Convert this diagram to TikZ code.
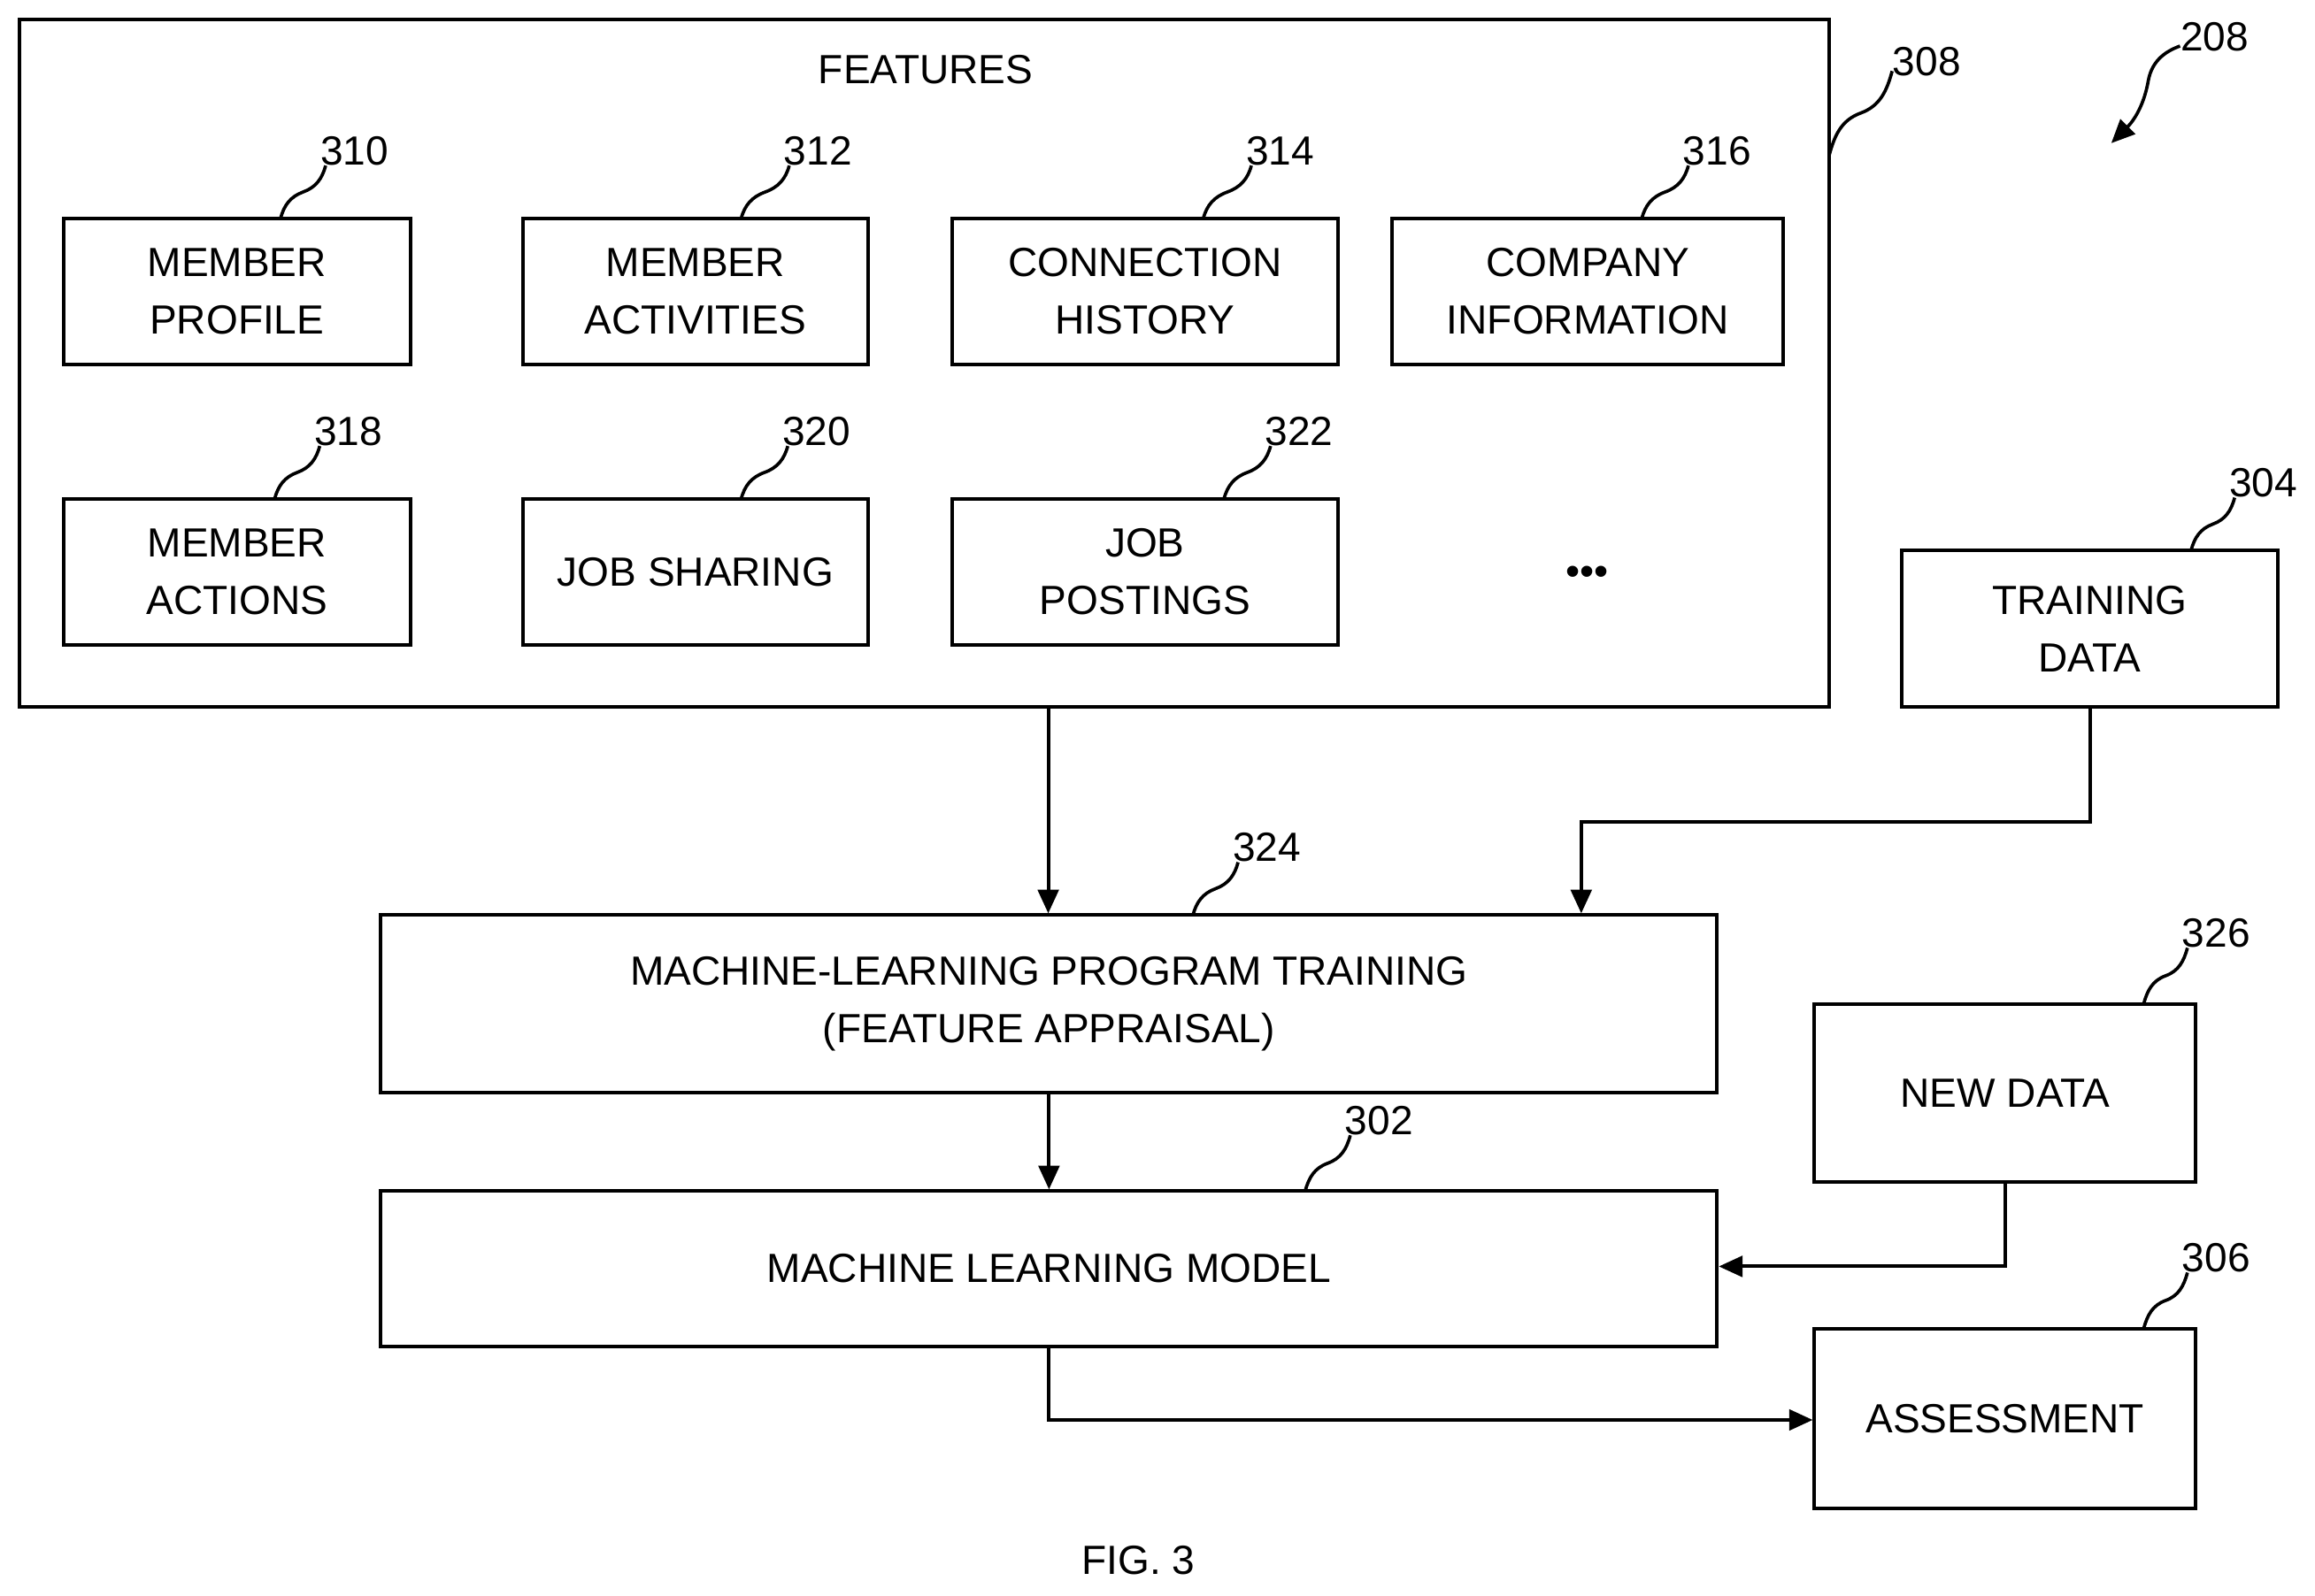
\documentclass[tikz,border=0pt]{standalone}
\usepackage{fontspec}
\setmainfont{Liberation Sans}
\usetikzlibrary{arrows.meta,calc}
\begin{document}
\begin{tikzpicture}[x=0.5pt,y=0.5pt,
  box/.style={draw,line width=1.2pt,align=center,inner sep=0pt,font=\fontsize{13.8}{19.5}\selectfont},
  lab/.style={font=\fontsize{13.8}{18}\selectfont,inner sep=1pt},
  arr/.style={line width=1.2pt,-{Triangle[length=8pt,width=7pt]}},
  sq/.style={line width=1.1pt}]
\useasboundingbox (0,0) rectangle (1568,-1081);
\def\bx#1#2#3#4#5#6{\node[box,minimum width={(#4-#2)*0.5pt},minimum height={(#5-#3)*0.5pt}] (#1) at ({(#2+#4)/2},{-(#3+#5)/2}) {#6};}
\def\squig#1#2{\draw[sq] (#1) to[out=75,in=200] ($(#1)!0.5!(#2)$) to[out=20,in=255] (#2);}
\draw[line width=1.2pt] (13,-13) rectangle (1239,-479);
\coordinate (featr) at (1239,-105);
\node[lab] (ft) at (627,-47) {FEATURES};
\bx{b310}{43}{148}{278}{247}{MEMBER\\PROFILE}
\bx{b312}{354}{148}{588}{247}{MEMBER\\ACTIVITIES}
\bx{b314}{645}{148}{906}{247}{CONNECTION\\HISTORY}
\bx{b316}{943}{148}{1208}{247}{COMPANY\\INFORMATION}
\bx{b318}{43}{338}{278}{437}{MEMBER\\ACTIONS}
\bx{b320}{354}{338}{588}{437}{JOB SHARING}
\bx{b322}{645}{338}{906}{437}{JOB\\POSTINGS}
\node[lab] (dots) at (1075,-390) {\textbullet\textbullet\textbullet};
\bx{b304}{1288}{373}{1543}{479}{TRAINING\\DATA}
\bx{b324}{258}{620}{1163}{740}{MACHINE-LEARNING PROGRAM TRAINING\\(FEATURE APPRAISAL)}
\bx{b302}{258}{807}{1163}{912}{MACHINE LEARNING MODEL}
\bx{b326}{1229}{680}{1487}{801}{NEW DATA}
\bx{b306}{1229}{900}{1487}{1022}{ASSESSMENT}
\node[lab] (fig) at (771,-1057) {FIG. 3};
\node[lab] (l310) at (240,-102) {310};
\node[lab] (l312) at (554,-102) {312};
\node[lab] (l314) at (867,-102) {314};
\node[lab] (l316) at (1163,-102) {316};
\node[lab] (l318) at (236,-292) {318};
\node[lab] (l320) at (553,-292) {320};
\node[lab] (l322) at (880,-292) {322};
\node[lab] (l304) at (1533,-327) {304};
\node[lab] (l324) at (858,-574) {324};
\node[lab] (l302) at (934,-759) {302};
\node[lab] (l326) at (1501,-632) {326};
\node[lab] (l306) at (1501,-852) {306};
\node[lab] (l308) at (1305,-42) {308};
\node[lab] (l208) at (1500,-25) {208};
\coordinate (s310) at (190,-148); \squig{s310}{$(l310.south west)+(6,2)$}
\coordinate (s312) at (502,-148); \squig{s312}{$(l312.south west)+(6,2)$}
\coordinate (s314) at (815,-148); \squig{s314}{$(l314.south west)+(6,2)$}
\coordinate (s316) at (1112,-148); \squig{s316}{$(l316.south west)+(6,2)$}
\coordinate (s318) at (186,-338); \squig{s318}{$(l318.south west)+(6,2)$}
\coordinate (s320) at (502,-338); \squig{s320}{$(l320.south west)+(6,2)$}
\coordinate (s322) at (829,-338); \squig{s322}{$(l322.south west)+(6,2)$}
\coordinate (s304) at (1484,-373); \squig{s304}{$(l304.south west)+(6,2)$}
\coordinate (s324) at (808,-620); \squig{s324}{$(l324.south west)+(6,2)$}
\coordinate (s302) at (884,-807); \squig{s302}{$(l302.south west)+(6,2)$}
\coordinate (s326) at (1452,-680); \squig{s326}{$(l326.south west)+(6,2)$}
\coordinate (s306) at (1452,-900); \squig{s306}{$(l306.south west)+(6,2)$}
\squig{featr}{$(l308.south west)+(2,6)$}
\coordinate (a208) at (1430,-97);
\draw[sq,-{Triangle[length=8pt,width=7pt]}] ($(l208.south west)+(2,6)$) to[out=200,in=80] (1455,-55) to[out=260,in=45] (a208);
\draw[arr] (710,-479) -- (b324.north -| 710,0);
\draw[arr] (b304.south) |- (1071,-557) -- (b324.north -| 1071,0);
\draw[arr] (b324.south) -- (b302.north);
\draw[arr] (b326.south) |- (b302.east |- 0,-858);
\draw[arr] (b302.south) |- (b306.west |- 0,-962);
\end{tikzpicture}
\end{document}
